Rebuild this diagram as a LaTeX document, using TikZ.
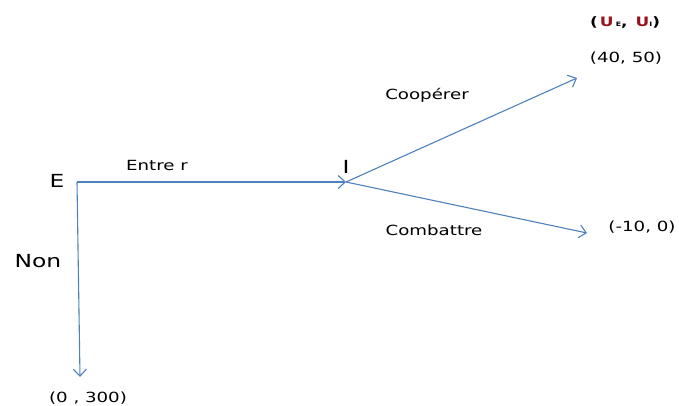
\documentclass[tikz,border=0pt]{standalone}
\usepackage{fontspec}
\setmainfont[FakeStretch=1.3]{DejaVu Sans}
\usetikzlibrary{arrows.meta}
\definecolor{lineblue}{RGB}{79,129,189}
\definecolor{ured}{RGB}{150,20,30}
\tikzset{
  conn/.style={draw=lineblue, line width=1.1pt, -{Straight Barb[length=7pt,width=13pt,line width=1.1pt]}},
  lbl/.style={inner sep=0pt, anchor=base, font=\fontsize{14}{16}\selectfont, text=black},
  biglbl/.style={inner sep=0pt, anchor=base, font=\fontsize{18}{21}\selectfont, text=black}
}
\begin{document}
\begin{tikzpicture}[x=1pt,y=-1pt]
\useasboundingbox (0,0) rectangle (679,406);
% points
\coordinate (e0) at (77,182);
\coordinate (i0) at (346,182);
\coordinate (coop) at (577,78);
\coordinate (comb) at (587,233);
\coordinate (non) at (80,377);
% labels
\node[biglbl] (E) at (57,187) {E};
\node[biglbl] (I) at (346,173) {I};
\node[biglbl] (Non) at (38,267) {Non};
\node[lbl] (entrer) at (157,171) {Entre r};
\node[lbl] (cooperer) at (427,100) {Coopérer};
\node[lbl] (combattre) at (434,235) {Combattre};
\node[lbl] (p1) at (626,63) {(40, 50)};
\node[lbl] (p2) at (642,231) {(-10, 0)};
\node[lbl] (p3) at (88,402) {(0 , 300)};
\node[lbl, font=\bfseries\fontsize{13}{15}\selectfont] (util) at (625,27) {(\,\textcolor{ured}{U}\,{\fontsize{6}{7}\selectfont E}, \,\textcolor{ured}{U}{\fontsize{6}{7}\selectfont I})};
% connectors
\draw[conn] (e0) -- (i0);
\draw[conn] (e0) -- (non);
\draw[conn] (i0) -- (coop);
\draw[conn] (i0) -- (comb);
\end{tikzpicture}
\end{document}
